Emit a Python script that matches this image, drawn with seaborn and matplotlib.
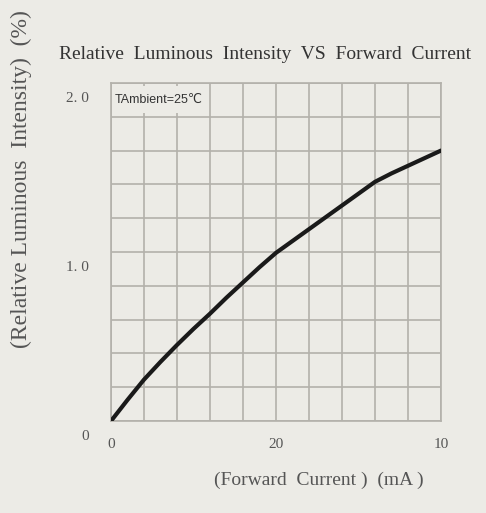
# Relative Luminous Intensity VS Forward Current
# LED datasheet curve redrawn with seaborn

import numpy as np
import pandas as pd
import seaborn as sns
import matplotlib.pyplot as plt
import matplotlib.transforms as mtransforms
from matplotlib.patches import Rectangle

# DATA
current_ma = [0, 2, 4, 6, 8, 10, 12, 14, 16, 18, 20,
              22, 24, 26, 28, 30, 32, 34, 36, 38, 40]
rel_intensity = [0.0, 0.125, 0.245, 0.35, 0.45, 0.545, 0.635, 0.73, 0.82, 0.91, 0.995,
                 1.065, 1.135, 1.205, 1.275, 1.345, 1.415, 1.465, 1.51, 1.555, 1.60]

x_ticks = [0, 20, 40]
x_tick_labels = ['0', '20', '10']
y_ticks = [0, 1.0, 2.0]
y_tick_labels = ['0', '1. 0', '2. 0']

df = pd.DataFrame({'current': current_ma, 'intensity': rel_intensity})

BG = '#ecebe6'
GRID = '#b3b1ab'

sns.set_theme(style='white')
plt.rcParams['font.family'] = ['Liberation Serif', 'DejaVu Serif']

fig = plt.figure(figsize=(4.86, 5.13), dpi=100, facecolor=BG)
ax = fig.add_axes([0.2284, 0.1793, 0.679, 0.659])
ax.set_facecolor(BG)

sns.lineplot(data=df, x='current', y='intensity', ax=ax,
             color='#1a1a1a', linewidth=3.0, zorder=5,
             solid_joinstyle='round', solid_capstyle='round')

ax.set_xlim(0, 40)
ax.set_ylim(0, 2.0)

# GRID: 10 x 10 CELLS
ax.set_xticks(x_ticks)
ax.set_xticklabels(x_tick_labels)
ax.set_yticks(y_ticks)
ax.set_yticklabels(y_tick_labels)
ax.set_xticks(np.arange(0, 41, 4), minor=True)
ax.set_yticks(np.arange(0, 2.01, 0.2), minor=True)
ax.grid(True, which='both', color=GRID, linewidth=1.2)
ax.set_axisbelow(True)
for s in ax.spines.values():
    s.set_color(GRID)
    s.set_linewidth(1.2)

ax.tick_params(which='both', length=0)
ax.tick_params(axis='x', pad=12, labelsize=11, labelcolor='#555555')
ax.tick_params(axis='y', pad=16, labelsize=11, labelcolor='#555555')
off = mtransforms.ScaledTranslation(0, -10 / 72, fig.dpi_scale_trans)
for lab in ax.get_yticklabels():
    lab.set_transform(lab.get_transform() + off)

ax.set_xlabel('')
ax.set_ylabel('')

# AMBIENT NOTE IN TOP LEFT CELLS
ax.add_patch(Rectangle((0.3, 1.82), 11.3, 0.16, facecolor=BG,
                       edgecolor='none', zorder=1))
ax.text(0.4, 1.9, 'TAmbient=25\u2103', fontsize=9, va='center', ha='left',
        color='#333333', family=['Liberation Sans', 'DejaVu Sans'], zorder=6)

fig.text(0.545, 0.893, 'Relative  Luminous  Intensity  VS  Forward  Current',
         ha='center', va='center', fontsize=14, color='#333333')
fig.text(0.045, 0.65, '(Relative Luminous  Intensity)  (%)',
         rotation=90, ha='center', va='center', fontsize=17, color='#555555')
fig.text(0.655, 0.064, '(Forward  Current )  (mA )',
         ha='center', va='center', fontsize=14, color='#555555')

fig.savefig('out.png', dpi=100, facecolor=BG)
